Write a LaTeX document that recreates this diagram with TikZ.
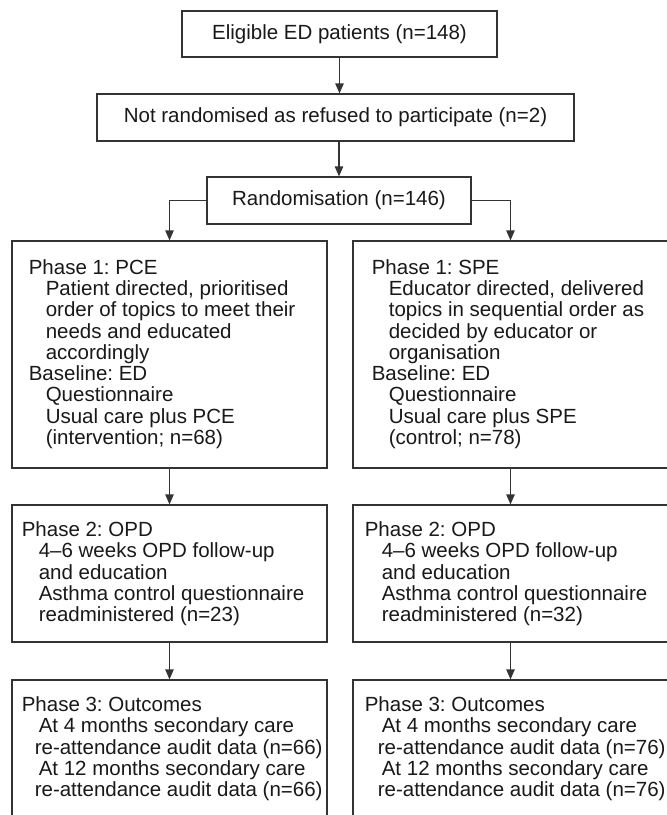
\documentclass[tikz,border=0pt]{standalone}
\usepackage{fontspec}
\setmainfont{Liberation Sans}
\frenchspacing
\usetikzlibrary{arrows.meta}
\newcommand{\indt}{\hspace*{8.5pt}}
\newcommand{\indr}{\hspace*{6.5pt}}
\tikzset{
  flowbox/.style={draw=black!80, line width=0.6pt, fill=white, inner sep=0pt,
    text=black!90, font=\fontsize{10.25pt}{10.65pt}\selectfont},
  boxtext/.style={inner sep=0pt, anchor=north west, align=left, text=black!90,
    font=\fontsize{10.25pt}{10.65pt}\selectfont},
  flowarrow/.style={draw=black!80, line width=0.6pt, -{Triangle[length=5pt,width=4.2pt]}}
}
\begin{document}
\begin{tikzpicture}[x=0.5pt, y=-0.5pt]
    \useasboundingbox (0,0) rectangle (667,815);
    \clip (0,0) rectangle (667,815);
    \fill[white] (0,0) rectangle (667,815);

    % enrolment
    \node[flowbox, minimum width=157.5pt, minimum height=23pt] (elig) at (339.5, 34) {Eligible ED patients (n=148)};
    \node[flowbox, minimum width=238.5pt, minimum height=23.5pt] (refused) at (335.5, 117.5) {Not randomised as refused to participate (n=2)};
    \node[flowbox, minimum width=132pt, minimum height=23.5pt] (rand) at (339, 200.5) {Randomisation (n=146)};

    % phase boxes
    \node[flowbox, minimum width=157.5pt, minimum height=113.5pt] (ph1pce) at (169.5, 354.5) {};
    \node[flowbox, minimum width=157.5pt, minimum height=113.5pt] (ph1spe) at (510.5, 354.5) {};
    \node[flowbox, minimum width=157.5pt, minimum height=68.5pt] (ph2pce) at (169.5, 573.5) {};
    \node[flowbox, minimum width=157.5pt, minimum height=68.5pt] (ph2spe) at (510.5, 573.5) {};
    \node[flowbox, minimum width=157.5pt, minimum height=80pt] (ph3pce) at (169.5, 760) {};
    \node[flowbox, minimum width=157.5pt, minimum height=80pt] (ph3spe) at (510.5, 760) {};

    \node[boxtext] (ph1pcetxt) at ([shift={(17,18.5)}]ph1pce.north west) {Phase 1: PCE\\
        \indt Patient directed, prioritised\\
        \indt order of topics to meet their\\
        \indt needs and educated\\
        \indt accordingly\\
        Baseline: ED\\
        \indt Questionnaire\\
        \indt Usual care plus PCE\\
        \indt (intervention; n=68)};
    \node[boxtext] (ph1spetxt) at ([shift={(19,18.5)}]ph1spe.north west) {Phase 1: SPE\\
        \indt Educator directed, delivered\\
        \indt topics in sequential order as\\
        \indt decided by educator or\\
        \indt organisation\\
        Baseline: ED\\
        \indt Questionnaire\\
        \indt Usual care plus SPE\\
        \indt (control; n=78)};
    \node[boxtext] (ph2pcetxt) at ([shift={(10,17)}]ph2pce.north west) {Phase 2: OPD\\
        \indt 4--6 weeks OPD follow-up\\
        \indt and education\\
        \indt Asthma control questionnaire\\
        \indt readministered (n=23)};
    \node[boxtext] (ph2spetxt) at ([shift={(12,17)}]ph2spe.north west) {Phase 2: OPD\\
        \indt 4--6 weeks OPD follow-up\\
        \indt and education\\
        \indt Asthma control questionnaire\\
        \indt readministered (n=32)};
    \node[boxtext] (ph3pcetxt) at ([shift={(10,17)}]ph3pce.north west) {Phase 3: Outcomes\\
        \indt At 4 months secondary care\\
        \indr re-attendance audit data (n=66)\\
        \indt At 12 months secondary care\\
        \indr re-attendance audit data (n=66)};
    \node[boxtext] (ph3spetxt) at ([shift={(12,17)}]ph3spe.north west) {Phase 3: Outcomes\\
        \indt At 4 months secondary care\\
        \indr re-attendance audit data (n=76)\\
        \indt At 12 months secondary care\\
        \indr re-attendance audit data (n=76)};

    % connectors
    \draw[flowarrow] (elig.south) -- (elig.south |- refused.north);
    \draw[flowarrow] (rand.north |- refused.south) -- (rand.north);
    \draw[flowarrow] (rand.west) -| (ph1pce.north);
    \draw[flowarrow] (rand.east) -| (ph1spe.north);
    \draw[flowarrow] (ph1pce) -- (ph2pce);
    \draw[flowarrow] (ph1spe) -- (ph2spe);
    \draw[flowarrow] (ph2pce) -- (ph3pce);
    \draw[flowarrow] (ph2spe) -- (ph3spe);
\end{tikzpicture}
\end{document}
